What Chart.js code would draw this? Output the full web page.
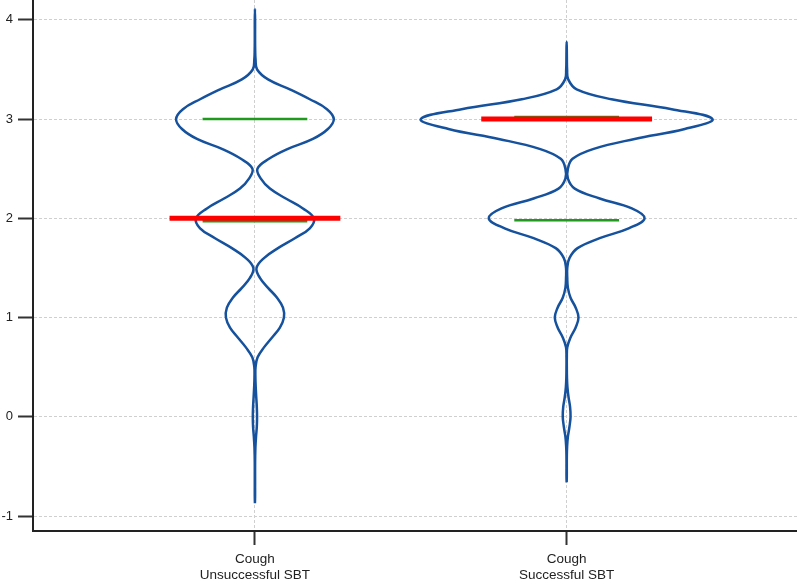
<!DOCTYPE html>
<html>
<head>
<meta charset="utf-8">
<script src="https://cdn.jsdelivr.net/npm/chart.js@4.4.1/dist/chart.umd.min.js"></script>
<style>
  html, body { margin: 0; padding: 0; background: #fff; }
  #wrap { width: 797px; height: 579px; }
</style>
</head>
<body>
<div id="wrap"><canvas id="violin" width="797" height="579"></canvas></div>
<script>
// categories sit at x = 1 and x = 2 on a linear axis
var categories = [["Cough", "Unsuccessful SBT"], ["Cough", "Successful SBT"]];
var yTicks = [-1, 0, 1, 2, 3, 4];

// violin outlines: half-width (x-axis units) at each value of the score
var unsY = [-0.87, -0.8, -0.7, -0.6, -0.5, -0.4, -0.3, -0.2, -0.1, 0.0, 0.1, 0.2, 0.3, 0.4, 0.5, 0.6, 0.7, 0.8, 0.9, 1.0,
            1.1, 1.2, 1.3, 1.4, 1.5, 1.6, 1.7, 1.8, 1.9, 2.0, 2.1, 2.2, 2.3, 2.4, 2.5, 2.6, 2.7, 2.8, 2.9, 3.0,
            3.1, 3.2, 3.3, 3.4, 3.5, 3.6, 3.7, 3.8, 3.9, 4.0, 4.11];
var unsW = [0, 0.0005, 0.0005, 0.0005, 0.0005, 0.0008, 0.0016, 0.0035, 0.006, 0.0068, 0.006, 0.0042, 0.0025, 0.0015, 0.002, 0.0085, 0.029, 0.055, 0.080, 0.093,
            0.090, 0.071, 0.042, 0.016, 0.005, 0.029, 0.074, 0.128, 0.176, 0.189, 0.154, 0.099, 0.048, 0.019, 0.008, 0.045, 0.106, 0.186, 0.234, 0.253,
            0.231, 0.176, 0.112, 0.042, 0.007, 0.002, 0.0008, 0.0005, 0.0005, 0.0005, 0];

var sucY = [-0.66, -0.6, -0.5, -0.4, -0.3, -0.2, -0.1, 0.0, 0.1, 0.2, 0.3, 0.4, 0.5, 0.6, 0.7, 0.8, 0.9, 1.0,
            1.1, 1.2, 1.3, 1.4, 1.5, 1.6, 1.7, 1.8, 1.9, 2.0, 2.1, 2.2, 2.3, 2.4, 2.5, 2.6, 2.7, 2.8, 2.9, 3.0,
            3.1, 3.2, 3.3, 3.4, 3.5, 3.6, 3.7, 3.78];
var sucW = [0, 0.0005, 0.0005, 0.0006, 0.0015, 0.004, 0.009, 0.0125, 0.011, 0.006, 0.0025, 0.001, 0.0006, 0.0006, 0.002, 0.0125, 0.029, 0.038,
            0.029, 0.0125, 0.004, 0.002, 0.002, 0.009, 0.035, 0.106, 0.199, 0.250, 0.209, 0.106, 0.026, 0.004, 0.004, 0.019, 0.087, 0.218, 0.379, 0.468,
            0.337, 0.144, 0.032, 0.005, 0.0015, 0.0008, 0.0005, 0];

var medians = [2.0, 3.0];
var q1 = [1.97, 1.98];
var q3 = [3.0, 3.02];

var BLUE = "#15519c";
var RED = "#ff0000";
var GREEN = "#1f9a1f";
var MED_HALF = 0.274;
var Q_HALF = 0.168;

function outline(center, ys, ws) {
  var pts = [];
  for (var i = 0; i < ys.length; i++) pts.push({ x: center + ws[i], y: ys[i] });
  for (var j = ys.length - 2; j >= 0; j--) pts.push({ x: center - ws[j], y: ys[j] });
  return pts;
}

function hline(center, y, half) {
  return [{ x: center - half, y: y }, { x: center + half, y: y }];
}

var datasets = [];
// first dataset is drawn on top
medians.forEach(function (m, i) {
  datasets.push({ data: hline(i + 1, m, MED_HALF), borderColor: RED, borderWidth: 5, tension: 0 });
});
q1.forEach(function (v, i) {
  datasets.push({ data: hline(i + 1, v, Q_HALF), borderColor: GREEN, borderWidth: 2.5, tension: 0 });
  datasets.push({ data: hline(i + 1, q3[i], Q_HALF), borderColor: GREEN, borderWidth: 2.5, tension: 0 });
});
datasets.push({ data: outline(1, unsY, unsW), borderColor: BLUE, borderWidth: 2.5, tension: 0.4 });
datasets.push({ data: outline(2, sucY, sucW), borderColor: BLUE, borderWidth: 2.5, tension: 0.4 });

datasets.forEach(function (d) {
  d.showLine = true;
  d.fill = false;
  d.pointRadius = 0;
  d.pointHoverRadius = 0;
  d.borderCapStyle = "butt";
});

Chart.defaults.font.family = "'Liberation Sans', Arial, sans-serif";
Chart.defaults.color = "#222";

function noPad(s) {
  s.paddingTop = 0; s.paddingBottom = 0; s.paddingLeft = 0; s.paddingRight = 0;
}

new Chart(document.getElementById("violin").getContext("2d"), {
  type: "scatter",
  data: { datasets: datasets },
  options: {
    responsive: false,
    animation: false,
    layout: { padding: 0 },
    plugins: { legend: { display: false }, tooltip: { enabled: false } },
    scales: {
      x: {
        type: "linear",
        min: 0.288,
        max: 2.739,
        afterBuildTicks: function (s) { s.ticks = [{ value: 1 }, { value: 2 }]; },
        afterFit: function (s) { s.height = 48; noPad(s); },
        ticks: {
          font: { size: 13.5 },
          padding: 6,
          maxRotation: 0,
          autoSkip: false,
          callback: function (v) { return categories[Math.round(v) - 1]; }
        },
        grid: { color: "#cfcfcf", lineWidth: 1, tickColor: "#333", tickLength: 14, tickWidth: 2 },
        border: { color: "#222", width: 2, dash: [3, 2] }
      },
      y: {
        min: -1.15,
        max: 4.2,
        afterBuildTicks: function (s) { s.ticks = yTicks.map(function (t) { return { value: t }; }); },
        afterFit: function (s) { s.width = 33; noPad(s); },
        ticks: { font: { size: 13 }, padding: 5 },
        grid: { color: "#cfcfcf", lineWidth: 1, tickColor: "#333", tickLength: 15, tickWidth: 2 },
        border: { color: "#222", width: 2, dash: [3, 2] }
      }
    }
  }
});
</script>
</body>
</html>
